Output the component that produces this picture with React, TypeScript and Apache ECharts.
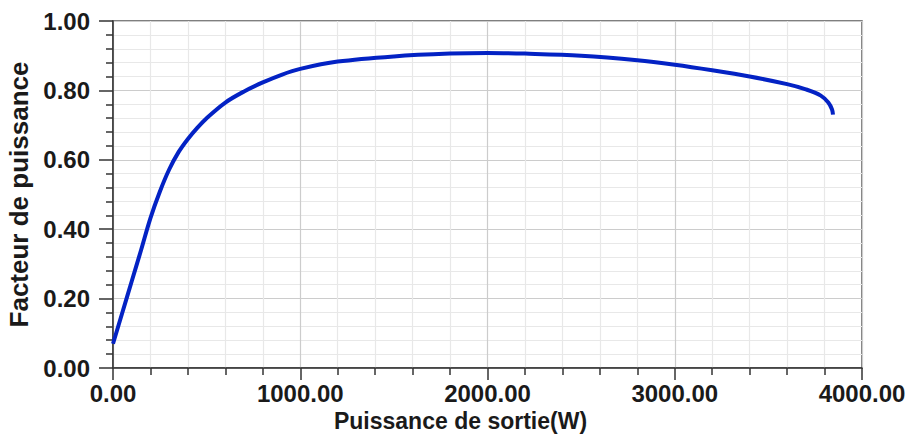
import React, { useEffect, useRef } from "react";
import * as echarts from "echarts";

const powerW = [0, 50, 100, 150, 200, 250, 300, 350, 400, 450, 500, 600, 700, 800, 900, 1000, 1200, 1500, 1800, 2000, 2200, 2500, 2800, 3000, 3200, 3400, 3600, 3700, 3780, 3820, 3840, 3845];
const powerFactor = [0.07, 0.16, 0.25, 0.34, 0.432, 0.508, 0.572, 0.622, 0.66, 0.692, 0.72, 0.765, 0.797, 0.823, 0.845, 0.862, 0.883, 0.898, 0.906, 0.908, 0.906, 0.9, 0.887, 0.874, 0.858, 0.84, 0.818, 0.803, 0.785, 0.765, 0.745, 0.73];
const xTitle = "Puissance de sortie(W)";
const yTitle = "Facteur de puissance";

export default function App() {
  const ref = useRef<HTMLDivElement>(null);
  useEffect(() => {
    document.body.style.margin = "0";
    const chart = echarts.init(ref.current!, null, { renderer: "svg" });
    const font = "'Liberation Sans', Arial, sans-serif";
    chart.setOption({
      animation: false,
      backgroundColor: "#ffffff",
      grid: {
        left: 113, right: 47, top: 21, bottom: 69,
        containLabel: false, outerBoundsMode: "none",
        show: true, borderColor: "#555555", borderWidth: 1.5,
      },
      xAxis: {
        type: "value",
        min: 0,
        max: 4000,
        interval: 1000,
        name: xTitle,
        nameLocation: "middle",
        nameGap: 40,
        nameTextStyle: { fontFamily: font, fontWeight: "bold", fontSize: 23, color: "#1a1a1a", padding: [0, 54, 0, 0] },
        axisLine: { show: true, onZero: false, lineStyle: { color: "#333333", width: 1.5 } },
        axisTick: { show: true, inside: false, length: 12, lineStyle: { color: "#333333", width: 1.5 } },
        minorTick: { show: true, splitNumber: 5, length: 7, lineStyle: { color: "#333333", width: 1.5 } },
        axisLabel: { fontFamily: font, fontWeight: "bold", fontSize: 24, color: "#1a1a1a", margin: 13, formatter: (v: number) => v.toFixed(2) },
        splitLine: { show: true, lineStyle: { color: "#cccccc", width: 1.2 } },
        minorSplitLine: { show: true, lineStyle: { color: "#e8e8e8", width: 1.2 } },
      },
      yAxis: {
        type: "value",
        min: 0,
        max: 1,
        interval: 0.2,
        name: yTitle,
        nameLocation: "middle",
        nameGap: 78,
        nameTextStyle: { fontFamily: font, fontWeight: "bold", fontSize: 26, color: "#1a1a1a" },
        axisLine: { show: true, onZero: false, lineStyle: { color: "#333333", width: 1.5 } },
        axisTick: { show: true, inside: false, length: 14, lineStyle: { color: "#333333", width: 1.5 } },
        minorTick: { show: true, splitNumber: 5, length: 7, lineStyle: { color: "#333333", width: 1.5 } },
        axisLabel: { fontFamily: font, fontWeight: "bold", fontSize: 24, color: "#1a1a1a", margin: 23, formatter: (v: number) => v.toFixed(2) },
        splitLine: { show: true, lineStyle: { color: "#cccccc", width: 1.2 } },
        minorSplitLine: { show: true, lineStyle: { color: "#e8e8e8", width: 1.2 } },
      },
      series: [
        {
          type: "line",
          data: powerW.map((w, i) => [w, powerFactor[i]]),
          smooth: 0.35,
          showSymbol: false,
          lineStyle: { color: "#0322c4", width: 4 },
        },
      ],
    });
    return () => chart.dispose();
  }, []);
  return <div ref={ref} style={{ width: 909, height: 437 }} />;
}
